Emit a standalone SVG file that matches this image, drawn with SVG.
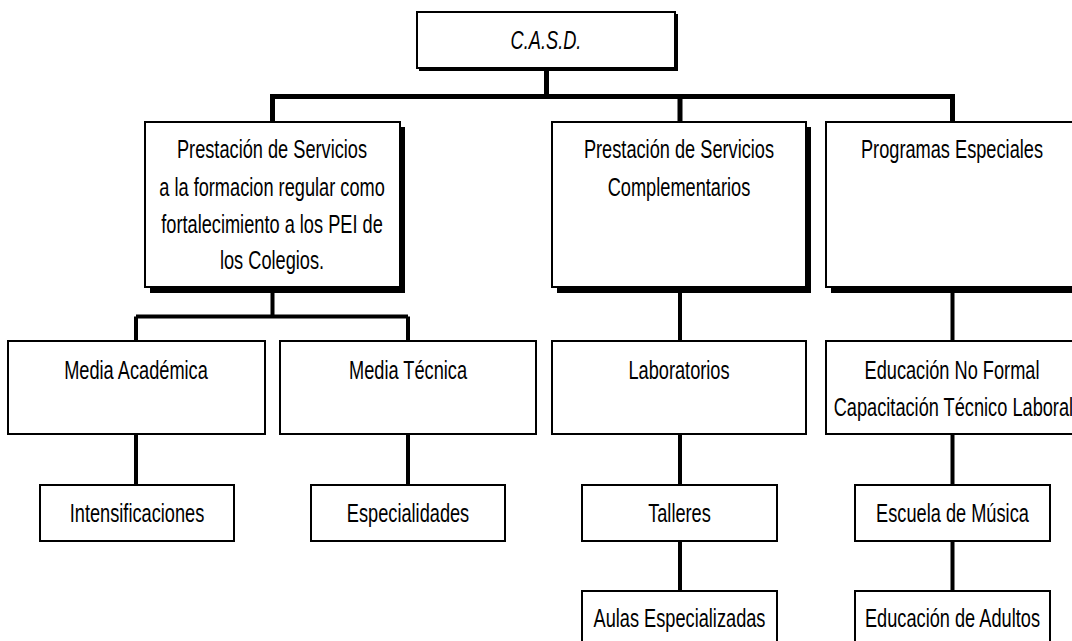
<svg xmlns="http://www.w3.org/2000/svg" width="1072" height="641" viewBox="0 0 1072 641">
<style>
.box{fill:#fff;stroke:#000;stroke-width:2}
.sh{fill:#000}
.c1{fill:none;stroke:#000;stroke-width:5;stroke-linecap:square}
.c2{fill:none;stroke:#000;stroke-width:4}
text{font-family:"Liberation Sans",Arial,sans-serif;font-size:26px;fill:#000;text-anchor:middle}
.it{font-style:italic}
</style>
<rect width="1072" height="641" fill="#fff"/>
<g id="connectors">
<path class="c1" d="M546.5 70V96.5M272.5 96.5H952.5M272.5 96.5V121M680 96.5V121M952.5 96.5V121"/>
<path class="c2" d="M272.5 292V316.5M136 316.5H408M136 316.5V341M408 316.5V341"/>
<path class="c2" d="M136 434V484M408 434V484"/>
<path class="c2" d="M680 292V341M680 434V484M680 541V591"/>
<path class="c2" d="M952.5 292V341M952.5 434V484M952.5 541V591"/>
</g>
<g id="casd">
<rect class="sh" x="419" y="14" width="259" height="57"/>
<rect class="box" x="417" y="12" width="258" height="56"/>
<g transform="scale(0.7 1)"><text class="it" x="780" y="49">C.A.S.D.</text></g>
</g>
<g id="prestacion-regular">
<rect class="sh" x="150" y="127" width="255" height="166"/>
<rect class="box" x="145" y="122" width="255" height="165"/>
<g transform="scale(0.7 1)">
<text x="388.6" y="158">Prestación de Servicios</text>
<text x="388.6" y="196">a la formacion regular como</text>
<text x="388.6" y="233">fortalecimiento a los PEI de</text>
<text x="388.6" y="269">los Colegios.</text>
</g>
</g>
<g id="prestacion-complementarios">
<rect class="sh" x="557" y="127" width="254" height="166"/>
<rect class="box" x="552" y="122" width="254" height="165"/>
<g transform="scale(0.7 1)">
<text x="970" y="158">Prestación de Servicios</text>
<text x="970" y="196">Complementarios</text>
</g>
</g>
<g id="programas-especiales">
<rect class="sh" x="831" y="127" width="254" height="166"/>
<rect class="box" x="826" y="122" width="254" height="165"/>
<g transform="scale(0.7 1)"><text x="1360" y="158">Programas Especiales</text></g>
</g>
<g id="media-academica">
<rect class="box" x="8" y="341" width="257" height="93"/>
<g transform="scale(0.7 1)"><text x="194.3" y="379">Media Académica</text></g>
</g>
<g id="media-tecnica">
<rect class="box" x="280" y="341" width="256" height="93"/>
<g transform="scale(0.7 1)"><text x="582.9" y="379">Media Técnica</text></g>
</g>
<g id="laboratorios">
<rect class="box" x="552" y="341" width="254" height="93"/>
<g transform="scale(0.7 1)"><text x="970" y="379">Laboratorios</text></g>
</g>
<g id="educacion-no-formal">
<rect class="box" x="826" y="341" width="254" height="93"/>
<g transform="scale(0.7 1)">
<text x="1360" y="379">Educación No Formal</text>
<text x="1362" y="416">Capacitación Técnico Laboral</text>
</g>
</g>
<g id="intensificaciones">
<rect class="box" x="40" y="485" width="194" height="56"/>
<g transform="scale(0.7 1)"><text x="195.7" y="522">Intensificaciones</text></g>
</g>
<g id="especialidades">
<rect class="box" x="311" y="485" width="194" height="56"/>
<g transform="scale(0.7 1)"><text x="582.9" y="522">Especialidades</text></g>
</g>
<g id="talleres">
<rect class="box" x="582" y="485" width="195" height="56"/>
<g transform="scale(0.7 1)"><text x="970.7" y="522">Talleres</text></g>
</g>
<g id="escuela-musica">
<rect class="box" x="855" y="485" width="195" height="56"/>
<g transform="scale(0.7 1)"><text x="1360.7" y="522">Escuela de Música</text></g>
</g>
<g id="aulas-especializadas">
<rect class="box" x="582" y="591" width="195" height="60"/>
<g transform="scale(0.7 1)"><text x="970.7" y="627">Aulas Especializadas</text></g>
</g>
<g id="educacion-adultos">
<rect class="box" x="855" y="591" width="195" height="60"/>
<g transform="scale(0.7 1)"><text x="1360.7" y="627">Educación de Adultos</text></g>
</g>
</svg>
